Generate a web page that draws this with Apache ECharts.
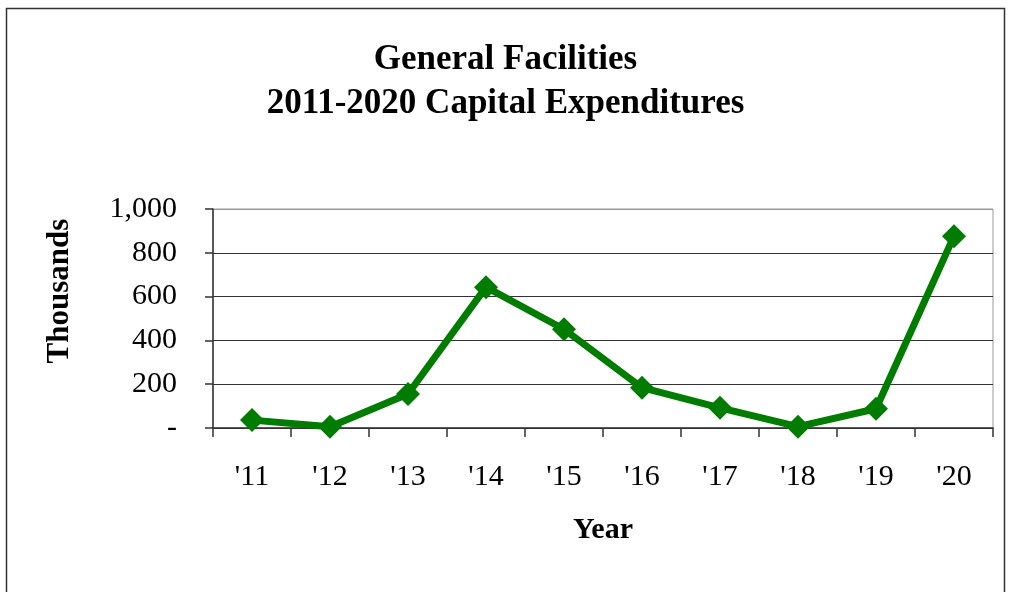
<!DOCTYPE html>
<html><head><meta charset="utf-8">
<script src="https://cdn.jsdelivr.net/npm/echarts@6/dist/echarts.min.js"></script>
<style>html,body{margin:0;padding:0;background:#fff}#c{width:1011px;height:592px}</style>
</head><body><div id="c"></div>
<script>
const categories = ["'11","'12","'13","'14","'15","'16","'17","'18","'19","'20"];
const capex = [36, 6, 155, 643, 451, 184, 92, 6, 88, 876];
const yTicks = [0, 200, 400, 600, 800, 1000];
const titleText = 'General Facilities\n2011-2020 Capital Expenditures';

const serif = '"Liberation Serif","Times New Roman",serif';
const chart = echarts.init(document.getElementById('c'), null, {renderer:'canvas'});
chart.setOption({
  animation: false,
  backgroundColor: '#fff',
  graphic: [
    {type:'rect', shape:{x:6.5, y:8.5, width:998, height:620}, style:{fill:'none', stroke:'#333', lineWidth:1.5}},
    {type:'text', x:60, y:291, rotation:Math.PI/2,
      style:{text:'Thousands', align:'center', verticalAlign:'middle',
        font:'bold 31px "Liberation Serif","Times New Roman",serif', fill:'#000'}}
  ],
  title: {text: titleText, left: 'center', top: 38, padding: 0,
    textStyle:{fontFamily:serif, fontWeight:'bold', fontSize:35, color:'#000', lineHeight:44}},
  grid: {left:213, right:18, top:209, bottom:164, show:true, borderColor:'#999', borderWidth:1},
  xAxis: {type:'category', data: categories, boundaryGap:true,
    name:'Year', nameLocation:'middle', nameGap:87,
    nameTextStyle:{fontFamily:serif, fontWeight:'bold', fontSize:30, color:'#000'},
    axisLine:{lineStyle:{color:'#333', width:1.5}},
    axisTick:{show:true, inside:false, length:9, lineStyle:{color:'#333', width:1.5}},
    axisLabel:{fontFamily:serif, fontSize:30, color:'#000', margin:34}},
  yAxis: {type:'value', min:yTicks[0], max:yTicks[yTicks.length-1], interval:200,
    axisLine:{show:true, lineStyle:{color:'#333', width:1.5}},
    axisTick:{show:true, inside:false, length:8, lineStyle:{color:'#333', width:1.5}},
    splitLine:{show:true, lineStyle:{color:['#333','#333','#333','#333','#333','#999'], width:1.2}},
    axisLabel:{fontFamily:serif, fontSize:30, color:'#000', margin:36,
      formatter: v => v === 0 ? '-' : v.toLocaleString('en-US')}},
  series: [{type:'line', data: capex, symbol:'diamond', symbolSize:24,
    lineStyle:{color:'#007c00', width:7}, itemStyle:{color:'#007c00'}}]
});
</script></body></html>
